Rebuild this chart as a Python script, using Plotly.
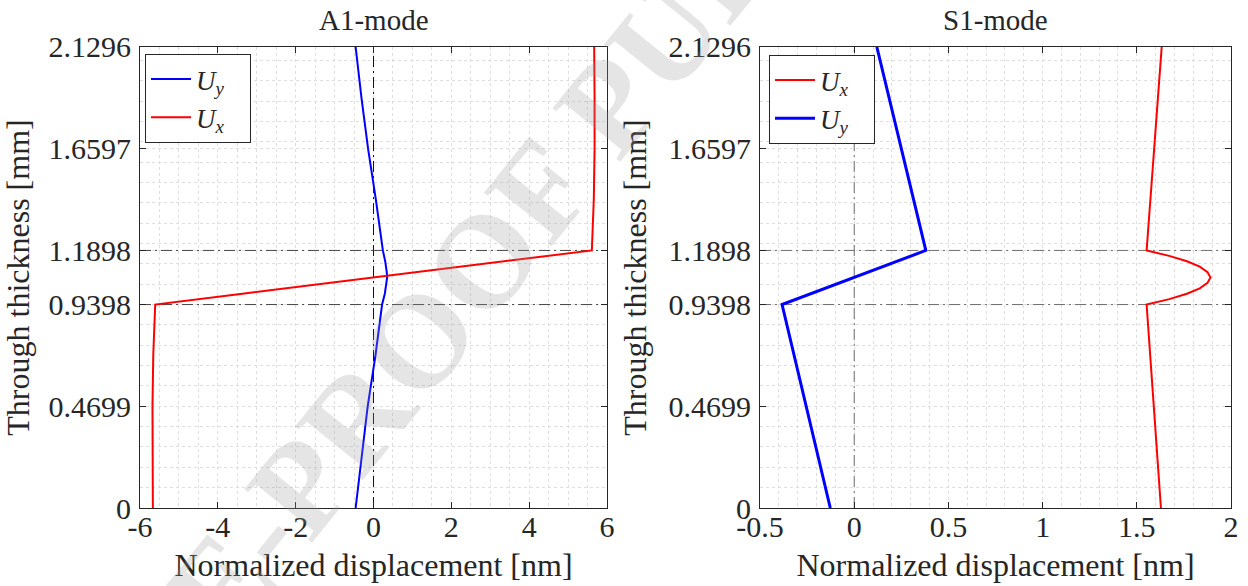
import plotly.graph_objects as go

# Layer interfaces and thickness ticks [mm]
thickness_ticks = [0, 0.4699, 0.9398, 1.1898, 1.6597, 2.1296]
interfaces = [0.9398, 1.1898]
minor_y_step = 0.09398

# A1-mode displacement profiles
a1_y = [0, 0.235, 0.4699, 0.7049, 0.9398, 0.9898, 1.0398, 1.0648, 1.0898,
        1.1398, 1.1898, 1.4248, 1.6597, 1.8947, 2.1296]
a1_uy = [-0.46, -0.31, -0.15, 0.05, 0.22, 0.29, 0.34, 0.35, 0.34,
         0.30, 0.24, 0.06, -0.14, -0.31, -0.46]
a1_ux = [-5.67, -5.68, -5.68, -5.66, -5.61, -3.37, -1.12, 0.0, 1.12,
         3.37, 5.61, 5.66, 5.68, 5.68, 5.67]

# S1-mode displacement profiles
s1_y_ux = [0, 0.4699, 0.9398, 0.9648, 0.9898, 1.0148, 1.0398, 1.0648, 1.0898,
           1.1148, 1.1398, 1.1648, 1.1898, 1.6597, 2.1296]
s1_ux = [1.628, 1.590, 1.552, 1.672, 1.766, 1.834, 1.875, 1.891, 1.875,
         1.834, 1.766, 1.672, 1.552, 1.592, 1.632]
s1_y_uy = [0, 0.9398, 1.1898, 2.1296]
s1_uy = [-0.127, -0.383, 0.380, 0.120]

a1_xticks = [-6, -4, -2, 0, 2, 4, 6]
s1_xticks = [-0.5, 0, 0.5, 1, 1.5, 2]

FONT = "Liberation Serif"
AX = "#262626"
GRID = "#dedede"
UX_LABEL = "<i>U</i><sub><i>x</i></sub>   "
UY_LABEL = "<i>U</i><sub><i>y</i></sub>   "

fig = go.Figure()

fig.add_trace(go.Scatter(x=a1_uy, y=a1_y, mode="lines", name=UY_LABEL,
                         line=dict(color="#0000ff", width=2),
                         xaxis="x", yaxis="y", legend="legend"))
fig.add_trace(go.Scatter(x=a1_ux, y=a1_y, mode="lines", name=UX_LABEL,
                         line=dict(color="#ff0000", width=2),
                         xaxis="x", yaxis="y", legend="legend"))
fig.add_trace(go.Scatter(x=s1_ux, y=s1_y_ux, mode="lines", name=UX_LABEL,
                         line=dict(color="#ff0000", width=2),
                         xaxis="x2", yaxis="y2", legend="legend2"))
fig.add_trace(go.Scatter(x=s1_uy, y=s1_y_uy, mode="lines", name=UY_LABEL,
                         line=dict(color="#0000ff", width=3),
                         xaxis="x2", yaxis="y2", legend="legend2"))


def fmt(v):
    return f"{v:g}"


def axis_title(text, standoff):
    return dict(text=text, standoff=standoff,
                font=dict(family=FONT, size=32, color=AX))


common = dict(showline=True, linecolor=AX, linewidth=1, mirror="ticks",
              ticks="inside", ticklen=6, tickcolor=AX, zeroline=False,
              automargin=False,
              showgrid=True, gridcolor=GRID, griddash="dot", gridwidth=1,
              tickfont=dict(family=FONT, size=30, color=AX))

yaxis_common = dict(common, range=[0, 2.1296], tickmode="array",
                    tickvals=thickness_ticks,
                    ticktext=[fmt(v) for v in thickness_ticks],
                    domain=[0.1331, 0.9198], ticklabelstandoff=2,
                    minor=dict(tickmode="linear", tick0=0, dtick=minor_y_step,
                               showgrid=True, gridcolor=GRID,
                               griddash="dot", gridwidth=1),
                    title=axis_title("Through thickness [mm]", 12))

xaxis_common = dict(common, ticklabelstandoff=-8)

fig.update_layout(
    width=1248, height=586,
    margin=dict(l=0, r=0, t=0, b=0),
    paper_bgcolor="white", plot_bgcolor="white",
    showlegend=True,
    xaxis=dict(xaxis_common, domain=[0.1122, 0.4864], range=[-6, 6], anchor="y",
               tickmode="array", tickvals=a1_xticks,
               ticktext=[fmt(v) for v in a1_xticks],
               minor=dict(tickmode="linear", tick0=0, dtick=0.5, showgrid=True,
                          gridcolor=GRID, griddash="dot", gridwidth=1),
               title=axis_title("Normalized displacement [nm]", 11)),
    yaxis=dict(yaxis_common, anchor="x"),
    xaxis2=dict(xaxis_common, domain=[0.609, 0.9864], range=[-0.5, 2], anchor="y2",
                tickmode="array", tickvals=s1_xticks,
                ticktext=[fmt(v) for v in s1_xticks],
                minor=dict(tickmode="linear", tick0=0, dtick=0.1, showgrid=True,
                           gridcolor=GRID, griddash="dot", gridwidth=1),
                title=axis_title("Normalized displacement [nm]", 11)),
    yaxis2=dict(yaxis_common, anchor="x2"),
    legend=dict(x=0.1162, y=0.9078, xanchor="left", yanchor="top",
                bgcolor="white", bordercolor=AX, borderwidth=1,
                tracegroupgap=0, itemwidth=40,
                font=dict(family=FONT, size=27, color=AX)),
    legend2=dict(x=0.6162, y=0.9061, xanchor="left", yanchor="top",
                 bgcolor="white", bordercolor=AX, borderwidth=1,
                 tracegroupgap=0, itemwidth=40,
                 font=dict(family=FONT, size=27, color=AX)),
)

# Dash-dot reference lines: zero displacement and layer interfaces
DASH = "11px,4px,2px,4px"
for xr, yr, xlim, col_v, col_h in (("x", "y", (-6, 6), "#111111", "#454545"),
                                   ("x2", "y2", (-0.5, 2), "#6e6e6e", "#6e6e6e")):
    fig.add_shape(type="line", xref=xr, yref=yr, x0=0, x1=0, y0=0, y1=2.1296,
                  line=dict(color=col_v, width=1, dash=DASH), layer="between")
    for yi in interfaces:
        fig.add_shape(type="line", xref=xr, yref=yr, x0=xlim[0], x1=xlim[1],
                      y0=yi, y1=yi, line=dict(color=col_h, width=1, dash=DASH),
                      layer="between")

# Subplot titles
for xr, yr, label in (("x", "y", "A1-mode"), ("x2", "y2", "S1-mode")):
    fig.add_annotation(xref=f"{xr} domain", yref=f"{yr} domain", x=0.5, y=1,
                       xanchor="center", yanchor="bottom", yshift=9,
                       showarrow=False, text=label,
                       font=dict(family=FONT, size=29, color=AX))

# Diagonal watermark
fig.add_annotation(xref="paper", yref="paper", x=572 / 1248, y=1 - 150 / 586,
                   xanchor="center", yanchor="middle",
                   text="<b>PRE-PROOF PUBLISHED</b>", showarrow=False,
                   textangle=-51,
                   font=dict(family=FONT, size=132, color="rgba(150,150,150,0.25)"))

fig.write_html("out.html")
